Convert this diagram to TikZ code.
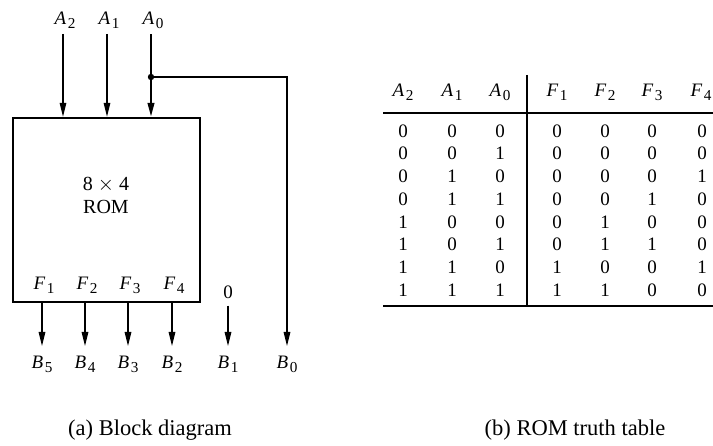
\documentclass[tikz,border=0pt]{standalone}
\usepackage{fontspec}
\setmainfont{Liberation Serif}
\usepackage{graphicx}
\usetikzlibrary{arrows.meta, positioning, calc}
\newcommand{\lab}[2]{\textit{#1}\kern1.5pt\raisebox{-0.45ex}{\scalebox{0.8}{#2}}}

\begin{document}
\begin{tikzpicture}[x=1pt, y=-1pt,
        sig/.style={-{Triangle[length=14pt, width=6.5pt]}, line width=1.3pt},
        wide/.style={sig, line width=2.3pt},
        lbl/.style={inner sep=0pt, font=\fontsize{19}{21}\selectfont},
        cell/.style={inner sep=0pt, font=\fontsize{19}{21}\selectfont},
        head/.style={inner sep=0pt, font=\fontsize{19}{21}\selectfont},
        caption/.style={font=\fontsize{22.5}{26}\selectfont},
        rule/.style={line width=1.4pt}
    ]
    \useasboundingbox (0,0) rectangle (713,446);

    % ROM block
    \node[draw, line width=2.3pt, minimum width=187pt, minimum height=184pt, inner sep=0pt] (rom) at (106.5,210) {};
    \node[align=center, font=\fontsize{20}{23}\selectfont] (romtext) at (106,195) {8 $\times$ 4\\ROM};

    % Address inputs
    \node[lbl, anchor=north] (a2) at (65,12) {\lab{A}{2}};
    \node[lbl, anchor=north] (a1) at (109,12) {\lab{A}{1}};
    \node[lbl, anchor=north] (a0) at (153,12) {\lab{A}{0}};
    \coordinate (tap) at (151,77);
    \draw[sig, shorten <=5pt] (a2.south -| 63,0) -- (63,0 |- rom.north);
    \draw[sig, shorten <=5pt] (a1.south -| 107,0) -- (107,0 |- rom.north);
    \draw[wide, shorten <=5pt] (a0.south -| tap) -- (tap |- rom.north);

    % Outputs
    \foreach \i/\x/\b in {1/42/5, 2/85/4, 3/128/3, 4/172/2} {
        \node[lbl] (f\i) at (\x+2,285) {\lab{F}{\i}};
        \node[lbl, anchor=north] (b\b) at (\x,356) {\lab{B}{\b}};
        \draw[sig, shorten >=10pt] (b\b.north |- rom.south) -- (b\b.north);
    }
    \node[lbl] (zero) at (228,292) {0};
    \node[lbl, anchor=north] (b1) at (228,356) {\lab{B}{1}};
    \draw[sig, shorten <=7pt, shorten >=10pt] (zero) -- (b1.north);
    \node[lbl, anchor=north] (b0) at (287,356) {\lab{B}{0}};
    \draw[sig, shorten >=10pt] (tap) -| (b0.north);
    \fill (tap) circle (3.2pt);

    % Truth table
    \draw[rule] (383,113) -- (713,113);
    \draw[rule] (383,306) -- (713,306);
    \draw[rule] (527,75) -- (527,306);
    \foreach \l/\n/\x in {A/2/403, A/1/452, A/0/500, F/1/557, F/2/605, F/3/652, F/4/701}
        \node[head, anchor=base] (h\x) at (\x,97) {\lab{\l}{\n}};
    \foreach \a/\b/\c/\p/\q/\s/\t [count=\r] in {0/0/0/0/0/0/0, 0/0/1/0/0/0/0, 0/1/0/0/0/0/1, 0/1/1/0/0/1/0,
                                                 1/0/0/0/1/0/0, 1/0/1/0/1/1/0, 1/1/0/1/0/0/1, 1/1/1/1/1/0/0} {
        \foreach \v/\x [count=\k] in {\a/403, \b/452, \c/500, \p/557, \q/605, \s/652, \t/702}
            \node[cell] (c\r-\k) at (\x,{131+22.7*(\r-1)}) {\v};
    }

    % Captions
    \node[caption] (capa) at (150,430) {(a) Block diagram};
    \node[caption] (capb) at (575,430) {(b) ROM truth table};
\end{tikzpicture}
\end{document}
